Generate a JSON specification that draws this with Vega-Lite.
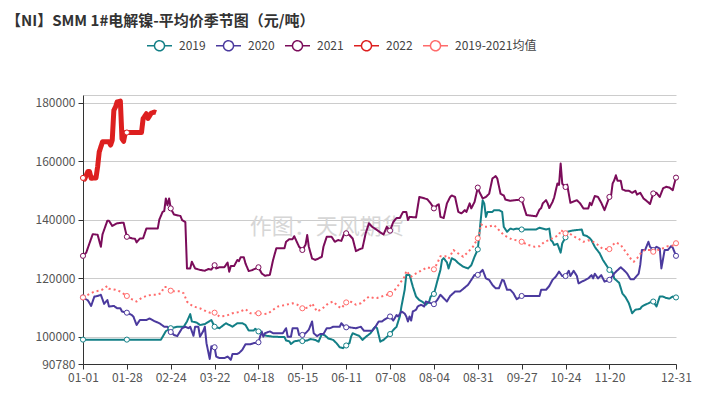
{
 "$schema": "https://vega.github.io/schema/vega-lite/v6.json",
 "width": 593, "height": 269,
 "autosize": {"type": "none"},
 "padding": {"left": 83, "top": 95, "right": 27, "bottom": 31},
 "background": "white",
 "config": {"font": "Noto Sans CJK SC", "view": {"stroke": null}},
 "title": {"text": "【NI】SMM 1#电解镍-平均价季节图（元/吨）", "anchor": "start", "frame": "group", "dx": -77, "dy": 17, "offset": 20, "fontSize": 15, "fontWeight": "bold", "color": "#333333", "font": "Noto Sans CJK SC"},
 "data": {"format": {"parse": {"date": "utc:'%Y-%m-%d'"}}, "values": [
{"series":"2019","date":"2019-01-01","value":99100},{"series":"2019","date":"2019-01-28","value":99100},{"series":"2019","date":"2019-02-18","value":99100},{"series":"2019","date":"2019-02-21","value":102000},{"series":"2019","date":"2019-02-24","value":103000},{"series":"2019","date":"2019-02-28","value":103500},{"series":"2019","date":"2019-03-03","value":103500},{"series":"2019","date":"2019-03-05","value":105300},{"series":"2019","date":"2019-03-07","value":107800},{"series":"2019","date":"2019-03-08","value":105300},{"series":"2019","date":"2019-03-11","value":104900},{"series":"2019","date":"2019-03-13","value":104100},{"series":"2019","date":"2019-03-16","value":104400},{"series":"2019","date":"2019-03-20","value":105800},{"series":"2019","date":"2019-03-22","value":103500},{"series":"2019","date":"2019-03-25","value":103000},{"series":"2019","date":"2019-03-29","value":104700},{"series":"2019","date":"2019-03-31","value":104100},{"series":"2019","date":"2019-04-02","value":103500},{"series":"2019","date":"2019-04-05","value":104700},{"series":"2019","date":"2019-04-08","value":104700},{"series":"2019","date":"2019-04-10","value":104100},{"series":"2019","date":"2019-04-12","value":102200},{"series":"2019","date":"2019-04-15","value":102200},{"series":"2019","date":"2019-04-16","value":102800},{"series":"2019","date":"2019-04-18","value":101900},{"series":"2019","date":"2019-04-21","value":100700},{"series":"2019","date":"2019-04-23","value":100400},{"series":"2019","date":"2019-04-27","value":100100},{"series":"2019","date":"2019-05-02","value":100000},{"series":"2019","date":"2019-05-04","value":100000},{"series":"2019","date":"2019-05-05","value":98800},{"series":"2019","date":"2019-05-07","value":98500},{"series":"2019","date":"2019-05-08","value":97600},{"series":"2019","date":"2019-05-10","value":98500},{"series":"2019","date":"2019-05-13","value":98800},{"series":"2019","date":"2019-05-15","value":98600},{"series":"2019","date":"2019-05-18","value":98800},{"series":"2019","date":"2019-05-20","value":99300},{"series":"2019","date":"2019-05-23","value":99000},{"series":"2019","date":"2019-05-25","value":98400},{"series":"2019","date":"2019-05-27","value":101000},{"series":"2019","date":"2019-05-29","value":100500},{"series":"2019","date":"2019-05-31","value":99500},{"series":"2019","date":"2019-06-03","value":99000},{"series":"2019","date":"2019-06-05","value":97900},{"series":"2019","date":"2019-06-07","value":96500},{"series":"2019","date":"2019-06-09","value":96200},{"series":"2019","date":"2019-06-11","value":97100},{"series":"2019","date":"2019-06-13","value":97900},{"series":"2019","date":"2019-06-14","value":100100},{"series":"2019","date":"2019-06-15","value":101300},{"series":"2019","date":"2019-06-17","value":100800},{"series":"2019","date":"2019-06-19","value":100400},{"series":"2019","date":"2019-06-21","value":99000},{"series":"2019","date":"2019-06-23","value":100000},{"series":"2019","date":"2019-06-26","value":101300},{"series":"2019","date":"2019-06-28","value":103000},{"series":"2019","date":"2019-06-29","value":103500},{"series":"2019","date":"2019-06-30","value":103000},{"series":"2019","date":"2019-07-02","value":98400},{"series":"2019","date":"2019-07-04","value":99000},{"series":"2019","date":"2019-07-06","value":100000},{"series":"2019","date":"2019-07-08","value":101000},{"series":"2019","date":"2019-07-10","value":102400},{"series":"2019","date":"2019-07-12","value":103500},{"series":"2019","date":"2019-07-13","value":105300},{"series":"2019","date":"2019-07-14","value":107000},{"series":"2019","date":"2019-07-15","value":110400},{"series":"2019","date":"2019-07-17","value":116100},{"series":"2019","date":"2019-07-18","value":121200},{"series":"2019","date":"2019-07-20","value":121200},{"series":"2019","date":"2019-07-22","value":117200},{"series":"2019","date":"2019-07-24","value":113800},{"series":"2019","date":"2019-07-26","value":112600},{"series":"2019","date":"2019-07-28","value":112000},{"series":"2019","date":"2019-07-30","value":111000},{"series":"2019","date":"2019-08-01","value":112000},{"series":"2019","date":"2019-08-02","value":113800},{"series":"2019","date":"2019-08-04","value":114700},{"series":"2019","date":"2019-08-06","value":118900},{"series":"2019","date":"2019-08-08","value":122900},{"series":"2019","date":"2019-08-09","value":126300},{"series":"2019","date":"2019-08-10","value":126900},{"series":"2019","date":"2019-08-12","value":125500},{"series":"2019","date":"2019-08-13","value":123400},{"series":"2019","date":"2019-08-15","value":126900},{"series":"2019","date":"2019-08-17","value":126300},{"series":"2019","date":"2019-08-19","value":125200},{"series":"2019","date":"2019-08-22","value":124000},{"series":"2019","date":"2019-08-25","value":123400},{"series":"2019","date":"2019-08-27","value":124500},{"series":"2019","date":"2019-08-29","value":127400},{"series":"2019","date":"2019-08-31","value":129900},{"series":"2019","date":"2019-09-01","value":135400},{"series":"2019","date":"2019-09-02","value":141000},{"series":"2019","date":"2019-09-03","value":146700},{"series":"2019","date":"2019-09-04","value":145500},{"series":"2019","date":"2019-09-05","value":141000},{"series":"2019","date":"2019-09-06","value":142700},{"series":"2019","date":"2019-09-09","value":142700},{"series":"2019","date":"2019-09-10","value":143300},{"series":"2019","date":"2019-09-13","value":143300},{"series":"2019","date":"2019-09-15","value":142700},{"series":"2019","date":"2019-09-16","value":137600},{"series":"2019","date":"2019-09-18","value":135900},{"series":"2019","date":"2019-09-20","value":137000},{"series":"2019","date":"2019-09-22","value":136700},{"series":"2019","date":"2019-09-24","value":137000},{"series":"2019","date":"2019-09-27","value":136700},{"series":"2019","date":"2019-10-01","value":136700},{"series":"2019","date":"2019-10-06","value":136700},{"series":"2019","date":"2019-10-08","value":137300},{"series":"2019","date":"2019-10-12","value":136700},{"series":"2019","date":"2019-10-14","value":137000},{"series":"2019","date":"2019-10-15","value":133100},{"series":"2019","date":"2019-10-16","value":132500},{"series":"2019","date":"2019-10-17","value":131400},{"series":"2019","date":"2019-10-19","value":131800},{"series":"2019","date":"2019-10-21","value":128800},{"series":"2019","date":"2019-10-22","value":132000},{"series":"2019","date":"2019-10-24","value":134000},{"series":"2019","date":"2019-10-25","value":135900},{"series":"2019","date":"2019-10-28","value":136300},{"series":"2019","date":"2019-10-31","value":136500},{"series":"2019","date":"2019-11-03","value":136700},{"series":"2019","date":"2019-11-04","value":134800},{"series":"2019","date":"2019-11-06","value":134500},{"series":"2019","date":"2019-11-08","value":133700},{"series":"2019","date":"2019-11-09","value":133000},{"series":"2019","date":"2019-11-11","value":130800},{"series":"2019","date":"2019-11-12","value":130000},{"series":"2019","date":"2019-11-14","value":128600},{"series":"2019","date":"2019-11-16","value":126300},{"series":"2019","date":"2019-11-20","value":122900},{"series":"2019","date":"2019-11-22","value":122000},{"series":"2019","date":"2019-11-23","value":120000},{"series":"2019","date":"2019-11-26","value":118500},{"series":"2019","date":"2019-11-28","value":114900},{"series":"2019","date":"2019-11-30","value":113500},{"series":"2019","date":"2019-12-02","value":111500},{"series":"2019","date":"2019-12-04","value":108100},{"series":"2019","date":"2019-12-06","value":109300},{"series":"2019","date":"2019-12-09","value":109600},{"series":"2019","date":"2019-12-10","value":110400},{"series":"2019","date":"2019-12-12","value":111000},{"series":"2019","date":"2019-12-14","value":111500},{"series":"2019","date":"2019-12-16","value":112100},{"series":"2019","date":"2019-12-17","value":112100},{"series":"2019","date":"2019-12-19","value":110400},{"series":"2019","date":"2019-12-21","value":113800},{"series":"2019","date":"2019-12-23","value":113800},{"series":"2019","date":"2019-12-25","value":113300},{"series":"2019","date":"2019-12-27","value":113100},{"series":"2019","date":"2019-12-29","value":113800},{"series":"2019","date":"2019-12-31","value":113500},
{"series":"2020","date":"2020-01-01","value":113500},{"series":"2020","date":"2020-01-04","value":112500},{"series":"2020","date":"2020-01-06","value":110600},{"series":"2020","date":"2020-01-08","value":113800},{"series":"2020","date":"2020-01-10","value":114000},{"series":"2020","date":"2020-01-12","value":114400},{"series":"2020","date":"2020-01-14","value":111300},{"series":"2020","date":"2020-01-16","value":112600},{"series":"2020","date":"2020-01-17","value":110400},{"series":"2020","date":"2020-01-20","value":110600},{"series":"2020","date":"2020-01-22","value":109800},{"series":"2020","date":"2020-01-24","value":109800},{"series":"2020","date":"2020-01-25","value":108700},{"series":"2020","date":"2020-01-28","value":108300},{"series":"2020","date":"2020-01-31","value":107500},{"series":"2020","date":"2020-02-01","value":107000},{"series":"2020","date":"2020-02-03","value":104100},{"series":"2020","date":"2020-02-05","value":105800},{"series":"2020","date":"2020-02-09","value":105800},{"series":"2020","date":"2020-02-11","value":106300},{"series":"2020","date":"2020-02-14","value":105400},{"series":"2020","date":"2020-02-17","value":104700},{"series":"2020","date":"2020-02-20","value":103500},{"series":"2020","date":"2020-02-22","value":103500},{"series":"2020","date":"2020-02-24","value":101700},{"series":"2020","date":"2020-02-26","value":100700},{"series":"2020","date":"2020-02-28","value":100300},{"series":"2020","date":"2020-03-02","value":103000},{"series":"2020","date":"2020-03-04","value":103500},{"series":"2020","date":"2020-03-06","value":103000},{"series":"2020","date":"2020-03-07","value":103500},{"series":"2020","date":"2020-03-09","value":100400},{"series":"2020","date":"2020-03-10","value":103500},{"series":"2020","date":"2020-03-12","value":103500},{"series":"2020","date":"2020-03-13","value":100100},{"series":"2020","date":"2020-03-15","value":102000},{"series":"2020","date":"2020-03-16","value":103500},{"series":"2020","date":"2020-03-17","value":97900},{"series":"2020","date":"2020-03-19","value":92500},{"series":"2020","date":"2020-03-20","value":96800},{"series":"2020","date":"2020-03-21","value":96700},{"series":"2020","date":"2020-03-22","value":96500},{"series":"2020","date":"2020-03-23","value":93300},{"series":"2020","date":"2020-03-25","value":92800},{"series":"2020","date":"2020-03-28","value":92800},{"series":"2020","date":"2020-03-30","value":93300},{"series":"2020","date":"2020-03-31","value":92800},{"series":"2020","date":"2020-04-01","value":92200},{"series":"2020","date":"2020-04-02","value":94200},{"series":"2020","date":"2020-04-05","value":94200},{"series":"2020","date":"2020-04-06","value":94500},{"series":"2020","date":"2020-04-08","value":95600},{"series":"2020","date":"2020-04-10","value":97500},{"series":"2020","date":"2020-04-13","value":97500},{"series":"2020","date":"2020-04-15","value":97900},{"series":"2020","date":"2020-04-18","value":98200},{"series":"2020","date":"2020-04-19","value":100100},{"series":"2020","date":"2020-04-20","value":101900},{"series":"2020","date":"2020-04-21","value":100100},{"series":"2020","date":"2020-04-22","value":101300},{"series":"2020","date":"2020-04-25","value":101900},{"series":"2020","date":"2020-04-27","value":101300},{"series":"2020","date":"2020-05-03","value":101300},{"series":"2020","date":"2020-05-05","value":103000},{"series":"2020","date":"2020-05-06","value":100100},{"series":"2020","date":"2020-05-08","value":100100},{"series":"2020","date":"2020-05-09","value":103000},{"series":"2020","date":"2020-05-12","value":103000},{"series":"2020","date":"2020-05-13","value":100700},{"series":"2020","date":"2020-05-15","value":100700},{"series":"2020","date":"2020-05-17","value":101300},{"series":"2020","date":"2020-05-19","value":102500},{"series":"2020","date":"2020-05-21","value":105300},{"series":"2020","date":"2020-05-22","value":101300},{"series":"2020","date":"2020-05-24","value":100300},{"series":"2020","date":"2020-05-26","value":101000},{"series":"2020","date":"2020-05-28","value":101000},{"series":"2020","date":"2020-05-30","value":103000},{"series":"2020","date":"2020-06-01","value":103000},{"series":"2020","date":"2020-06-03","value":103500},{"series":"2020","date":"2020-06-07","value":103500},{"series":"2020","date":"2020-06-08","value":104700},{"series":"2020","date":"2020-06-10","value":103500},{"series":"2020","date":"2020-06-11","value":103300},{"series":"2020","date":"2020-06-13","value":103300},{"series":"2020","date":"2020-06-17","value":103000},{"series":"2020","date":"2020-06-20","value":103500},{"series":"2020","date":"2020-06-22","value":102100},{"series":"2020","date":"2020-06-27","value":102100},{"series":"2020","date":"2020-06-29","value":103500},{"series":"2020","date":"2020-07-01","value":105300},{"series":"2020","date":"2020-07-03","value":105300},{"series":"2020","date":"2020-07-05","value":106100},{"series":"2020","date":"2020-07-08","value":107000},{"series":"2020","date":"2020-07-10","value":105600},{"series":"2020","date":"2020-07-12","value":107500},{"series":"2020","date":"2020-07-13","value":107000},{"series":"2020","date":"2020-07-15","value":108700},{"series":"2020","date":"2020-07-17","value":108000},{"series":"2020","date":"2020-07-18","value":107000},{"series":"2020","date":"2020-07-19","value":105300},{"series":"2020","date":"2020-07-20","value":107000},{"series":"2020","date":"2020-07-21","value":105600},{"series":"2020","date":"2020-07-22","value":108700},{"series":"2020","date":"2020-07-24","value":109300},{"series":"2020","date":"2020-07-25","value":110400},{"series":"2020","date":"2020-07-27","value":111000},{"series":"2020","date":"2020-07-29","value":110400},{"series":"2020","date":"2020-07-30","value":112100},{"series":"2020","date":"2020-08-04","value":111200},{"series":"2020","date":"2020-08-06","value":112600},{"series":"2020","date":"2020-08-08","value":114400},{"series":"2020","date":"2020-08-12","value":112100},{"series":"2020","date":"2020-08-14","value":114000},{"series":"2020","date":"2020-08-17","value":115500},{"series":"2020","date":"2020-08-20","value":115500},{"series":"2020","date":"2020-08-25","value":117800},{"series":"2020","date":"2020-08-27","value":119500},{"series":"2020","date":"2020-08-29","value":121200},{"series":"2020","date":"2020-08-31","value":121200},{"series":"2020","date":"2020-09-03","value":122900},{"series":"2020","date":"2020-09-05","value":120000},{"series":"2020","date":"2020-09-07","value":119500},{"series":"2020","date":"2020-09-09","value":117800},{"series":"2020","date":"2020-09-11","value":116600},{"series":"2020","date":"2020-09-13","value":116600},{"series":"2020","date":"2020-09-15","value":119500},{"series":"2020","date":"2020-09-16","value":119300},{"series":"2020","date":"2020-09-18","value":116100},{"series":"2020","date":"2020-09-20","value":116100},{"series":"2020","date":"2020-09-22","value":114900},{"series":"2020","date":"2020-09-23","value":113800},{"series":"2020","date":"2020-09-24","value":112900},{"series":"2020","date":"2020-09-27","value":114000},{"series":"2020","date":"2020-09-30","value":114000},{"series":"2020","date":"2020-10-08","value":114000},{"series":"2020","date":"2020-10-09","value":116100},{"series":"2020","date":"2020-10-12","value":116100},{"series":"2020","date":"2020-10-14","value":117400},{"series":"2020","date":"2020-10-16","value":119500},{"series":"2020","date":"2020-10-18","value":120600},{"series":"2020","date":"2020-10-20","value":122300},{"series":"2020","date":"2020-10-22","value":120800},{"series":"2020","date":"2020-10-24","value":120800},{"series":"2020","date":"2020-10-26","value":122600},{"series":"2020","date":"2020-10-27","value":120800},{"series":"2020","date":"2020-10-29","value":122600},{"series":"2020","date":"2020-10-31","value":120800},{"series":"2020","date":"2020-11-01","value":118300},{"series":"2020","date":"2020-11-03","value":118900},{"series":"2020","date":"2020-11-05","value":119400},{"series":"2020","date":"2020-11-07","value":120000},{"series":"2020","date":"2020-11-09","value":121100},{"series":"2020","date":"2020-11-10","value":120000},{"series":"2020","date":"2020-11-11","value":121600},{"series":"2020","date":"2020-11-13","value":120000},{"series":"2020","date":"2020-11-15","value":121100},{"series":"2020","date":"2020-11-17","value":118900},{"series":"2020","date":"2020-11-20","value":119500},{"series":"2020","date":"2020-11-22","value":120800},{"series":"2020","date":"2020-11-23","value":121700},{"series":"2020","date":"2020-11-25","value":122800},{"series":"2020","date":"2020-11-27","value":123800},{"series":"2020","date":"2020-11-29","value":122800},{"series":"2020","date":"2020-12-01","value":121600},{"series":"2020","date":"2020-12-03","value":119700},{"series":"2020","date":"2020-12-05","value":119700},{"series":"2020","date":"2020-12-08","value":121600},{"series":"2020","date":"2020-12-09","value":124600},{"series":"2020","date":"2020-12-10","value":129700},{"series":"2020","date":"2020-12-12","value":129700},{"series":"2020","date":"2020-12-14","value":132500},{"series":"2020","date":"2020-12-15","value":130800},{"series":"2020","date":"2020-12-17","value":129700},{"series":"2020","date":"2020-12-19","value":130800},{"series":"2020","date":"2020-12-21","value":130200},{"series":"2020","date":"2020-12-22","value":123400},{"series":"2020","date":"2020-12-24","value":129700},{"series":"2020","date":"2020-12-26","value":129700},{"series":"2020","date":"2020-12-28","value":131000},{"series":"2020","date":"2020-12-29","value":130500},{"series":"2020","date":"2020-12-31","value":127700},
{"series":"2021","date":"2021-01-01","value":127700},{"series":"2021","date":"2021-01-03","value":128800},{"series":"2021","date":"2021-01-05","value":132000},{"series":"2021","date":"2021-01-07","value":135100},{"series":"2021","date":"2021-01-10","value":134900},{"series":"2021","date":"2021-01-12","value":130800},{"series":"2021","date":"2021-01-13","value":135000},{"series":"2021","date":"2021-01-16","value":139700},{"series":"2021","date":"2021-01-17","value":139700},{"series":"2021","date":"2021-01-19","value":137900},{"series":"2021","date":"2021-01-22","value":138800},{"series":"2021","date":"2021-01-25","value":139000},{"series":"2021","date":"2021-01-26","value":139000},{"series":"2021","date":"2021-01-28","value":134200},{"series":"2021","date":"2021-01-31","value":133700},{"series":"2021","date":"2021-02-02","value":133500},{"series":"2021","date":"2021-02-03","value":132300},{"series":"2021","date":"2021-02-05","value":133600},{"series":"2021","date":"2021-02-07","value":133700},{"series":"2021","date":"2021-02-09","value":137000},{"series":"2021","date":"2021-02-16","value":137000},{"series":"2021","date":"2021-02-17","value":140100},{"series":"2021","date":"2021-02-19","value":142700},{"series":"2021","date":"2021-02-20","value":143000},{"series":"2021","date":"2021-02-21","value":147300},{"series":"2021","date":"2021-02-22","value":145000},{"series":"2021","date":"2021-02-23","value":147300},{"series":"2021","date":"2021-02-24","value":143900},{"series":"2021","date":"2021-02-26","value":141800},{"series":"2021","date":"2021-03-01","value":141300},{"series":"2021","date":"2021-03-02","value":139900},{"series":"2021","date":"2021-03-04","value":139200},{"series":"2021","date":"2021-03-05","value":123400},{"series":"2021","date":"2021-03-07","value":123400},{"series":"2021","date":"2021-03-08","value":125700},{"series":"2021","date":"2021-03-10","value":123400},{"series":"2021","date":"2021-03-13","value":122900},{"series":"2021","date":"2021-03-16","value":122600},{"series":"2021","date":"2021-03-18","value":123200},{"series":"2021","date":"2021-03-20","value":123000},{"series":"2021","date":"2021-03-22","value":124500},{"series":"2021","date":"2021-03-23","value":123400},{"series":"2021","date":"2021-03-25","value":123800},{"series":"2021","date":"2021-03-28","value":123800},{"series":"2021","date":"2021-03-30","value":125400},{"series":"2021","date":"2021-03-31","value":122300},{"series":"2021","date":"2021-04-01","value":124200},{"series":"2021","date":"2021-04-03","value":124200},{"series":"2021","date":"2021-04-05","value":126300},{"series":"2021","date":"2021-04-06","value":125900},{"series":"2021","date":"2021-04-07","value":127200},{"series":"2021","date":"2021-04-09","value":127200},{"series":"2021","date":"2021-04-10","value":125100},{"series":"2021","date":"2021-04-12","value":122500},{"series":"2021","date":"2021-04-14","value":122800},{"series":"2021","date":"2021-04-18","value":123800},{"series":"2021","date":"2021-04-20","value":121700},{"series":"2021","date":"2021-04-22","value":120900},{"series":"2021","date":"2021-04-25","value":121200},{"series":"2021","date":"2021-04-27","value":126300},{"series":"2021","date":"2021-04-29","value":130300},{"series":"2021","date":"2021-05-04","value":130300},{"series":"2021","date":"2021-05-05","value":132500},{"series":"2021","date":"2021-05-07","value":133400},{"series":"2021","date":"2021-05-09","value":133400},{"series":"2021","date":"2021-05-10","value":134400},{"series":"2021","date":"2021-05-12","value":132000},{"series":"2021","date":"2021-05-13","value":130800},{"series":"2021","date":"2021-05-15","value":129700},{"series":"2021","date":"2021-05-17","value":131500},{"series":"2021","date":"2021-05-18","value":134800},{"series":"2021","date":"2021-05-19","value":130800},{"series":"2021","date":"2021-05-21","value":126800},{"series":"2021","date":"2021-05-23","value":126300},{"series":"2021","date":"2021-05-25","value":126800},{"series":"2021","date":"2021-05-27","value":127400},{"series":"2021","date":"2021-05-28","value":130800},{"series":"2021","date":"2021-05-30","value":134200},{"series":"2021","date":"2021-06-02","value":134200},{"series":"2021","date":"2021-06-04","value":132500},{"series":"2021","date":"2021-06-06","value":133100},{"series":"2021","date":"2021-06-08","value":132800},{"series":"2021","date":"2021-06-10","value":135600},{"series":"2021","date":"2021-06-11","value":135400},{"series":"2021","date":"2021-06-13","value":134800},{"series":"2021","date":"2021-06-15","value":133600},{"series":"2021","date":"2021-06-17","value":129300},{"series":"2021","date":"2021-06-19","value":129900},{"series":"2021","date":"2021-06-21","value":130300},{"series":"2021","date":"2021-06-23","value":135400},{"series":"2021","date":"2021-06-25","value":138800},{"series":"2021","date":"2021-06-27","value":137600},{"series":"2021","date":"2021-06-30","value":136500},{"series":"2021","date":"2021-07-02","value":135700},{"series":"2021","date":"2021-07-04","value":135000},{"series":"2021","date":"2021-07-06","value":137600},{"series":"2021","date":"2021-07-08","value":136300},{"series":"2021","date":"2021-07-10","value":139300},{"series":"2021","date":"2021-07-12","value":140600},{"series":"2021","date":"2021-07-14","value":140600},{"series":"2021","date":"2021-07-16","value":142700},{"series":"2021","date":"2021-07-18","value":142700},{"series":"2021","date":"2021-07-19","value":139900},{"series":"2021","date":"2021-07-20","value":141000},{"series":"2021","date":"2021-07-24","value":140800},{"series":"2021","date":"2021-07-26","value":147800},{"series":"2021","date":"2021-07-28","value":147500},{"series":"2021","date":"2021-07-31","value":147000},{"series":"2021","date":"2021-08-02","value":145600},{"series":"2021","date":"2021-08-04","value":143900},{"series":"2021","date":"2021-08-06","value":145000},{"series":"2021","date":"2021-08-07","value":145300},{"series":"2021","date":"2021-08-08","value":141000},{"series":"2021","date":"2021-08-10","value":140600},{"series":"2021","date":"2021-08-12","value":145600},{"series":"2021","date":"2021-08-14","value":147800},{"series":"2021","date":"2021-08-15","value":148300},{"series":"2021","date":"2021-08-17","value":147800},{"series":"2021","date":"2021-08-19","value":142700},{"series":"2021","date":"2021-08-21","value":142200},{"series":"2021","date":"2021-08-23","value":143300},{"series":"2021","date":"2021-08-24","value":142700},{"series":"2021","date":"2021-08-26","value":145600},{"series":"2021","date":"2021-08-27","value":143900},{"series":"2021","date":"2021-08-29","value":146100},{"series":"2021","date":"2021-08-31","value":151000},{"series":"2021","date":"2021-09-01","value":149500},{"series":"2021","date":"2021-09-03","value":147300},{"series":"2021","date":"2021-09-05","value":147800},{"series":"2021","date":"2021-09-07","value":148900},{"series":"2021","date":"2021-09-09","value":154100},{"series":"2021","date":"2021-09-11","value":154900},{"series":"2021","date":"2021-09-12","value":154100},{"series":"2021","date":"2021-09-14","value":148900},{"series":"2021","date":"2021-09-16","value":148300},{"series":"2021","date":"2021-09-17","value":146900},{"series":"2021","date":"2021-09-20","value":146500},{"series":"2021","date":"2021-09-23","value":146700},{"series":"2021","date":"2021-09-27","value":146900},{"series":"2021","date":"2021-09-29","value":143300},{"series":"2021","date":"2021-09-30","value":141600},{"series":"2021","date":"2021-10-06","value":141200},{"series":"2021","date":"2021-10-08","value":143500},{"series":"2021","date":"2021-10-09","value":144000},{"series":"2021","date":"2021-10-10","value":145600},{"series":"2021","date":"2021-10-12","value":146700},{"series":"2021","date":"2021-10-13","value":145600},{"series":"2021","date":"2021-10-14","value":144000},{"series":"2021","date":"2021-10-16","value":146100},{"series":"2021","date":"2021-10-17","value":147600},{"series":"2021","date":"2021-10-19","value":152400},{"series":"2021","date":"2021-10-20","value":151900},{"series":"2021","date":"2021-10-21","value":159200},{"series":"2021","date":"2021-10-22","value":152300},{"series":"2021","date":"2021-10-24","value":151200},{"series":"2021","date":"2021-10-25","value":152000},{"series":"2021","date":"2021-10-27","value":145800},{"series":"2021","date":"2021-10-31","value":146700},{"series":"2021","date":"2021-11-02","value":145600},{"series":"2021","date":"2021-11-04","value":143900},{"series":"2021","date":"2021-11-07","value":143900},{"series":"2021","date":"2021-11-08","value":145800},{"series":"2021","date":"2021-11-09","value":145000},{"series":"2021","date":"2021-11-11","value":148100},{"series":"2021","date":"2021-11-13","value":147800},{"series":"2021","date":"2021-11-15","value":145800},{"series":"2021","date":"2021-11-17","value":143300},{"series":"2021","date":"2021-11-20","value":147800},{"series":"2021","date":"2021-11-21","value":148100},{"series":"2021","date":"2021-11-22","value":152400},{"series":"2021","date":"2021-11-23","value":153500},{"series":"2021","date":"2021-11-24","value":155200},{"series":"2021","date":"2021-11-25","value":153300},{"series":"2021","date":"2021-11-27","value":153300},{"series":"2021","date":"2021-11-28","value":150400},{"series":"2021","date":"2021-11-30","value":149900},{"series":"2021","date":"2021-12-02","value":149900},{"series":"2021","date":"2021-12-04","value":149200},{"series":"2021","date":"2021-12-06","value":149900},{"series":"2021","date":"2021-12-07","value":148600},{"series":"2021","date":"2021-12-09","value":149200},{"series":"2021","date":"2021-12-11","value":147300},{"series":"2021","date":"2021-12-13","value":146400},{"series":"2021","date":"2021-12-15","value":145400},{"series":"2021","date":"2021-12-17","value":149000},{"series":"2021","date":"2021-12-19","value":149200},{"series":"2021","date":"2021-12-21","value":147800},{"series":"2021","date":"2021-12-23","value":150700},{"series":"2021","date":"2021-12-25","value":151300},{"series":"2021","date":"2021-12-27","value":151000},{"series":"2021","date":"2021-12-29","value":150100},{"series":"2021","date":"2021-12-30","value":152400},{"series":"2021","date":"2021-12-31","value":154400},
{"series":"2022","date":"2022-01-01","value":154300},{"series":"2022","date":"2022-01-02","value":153900},{"series":"2022","date":"2022-01-04","value":156500},{"series":"2022","date":"2022-01-05","value":156500},{"series":"2022","date":"2022-01-06","value":154200},{"series":"2022","date":"2022-01-09","value":154300},{"series":"2022","date":"2022-01-10","value":158100},{"series":"2022","date":"2022-01-11","value":163200},{"series":"2022","date":"2022-01-13","value":166600},{"series":"2022","date":"2022-01-17","value":166600},{"series":"2022","date":"2022-01-18","value":165500},{"series":"2022","date":"2022-01-19","value":167200},{"series":"2022","date":"2022-01-20","value":177400},{"series":"2022","date":"2022-01-21","value":178500},{"series":"2022","date":"2022-01-22","value":180200},{"series":"2022","date":"2022-01-24","value":180500},{"series":"2022","date":"2022-01-25","value":167700},{"series":"2022","date":"2022-01-26","value":166800},{"series":"2022","date":"2022-01-27","value":169800},{"series":"2022","date":"2022-01-28","value":169800},{"series":"2022","date":"2022-02-06","value":169800},{"series":"2022","date":"2022-02-07","value":174500},{"series":"2022","date":"2022-02-09","value":176200},{"series":"2022","date":"2022-02-10","value":174600},{"series":"2022","date":"2022-02-12","value":176400},{"series":"2022","date":"2022-02-14","value":176800},{"series":"2022","date":"2022-02-15","value":176600},
{"series":"2019-2021均值","date":"2020-01-01","value":113500},{"series":"2019-2021均值","date":"2020-01-04","value":114400},{"series":"2019-2021均值","date":"2020-01-08","value":115500},{"series":"2019-2021均值","date":"2020-01-11","value":115800},{"series":"2019-2021均值","date":"2020-01-13","value":116200},{"series":"2019-2021均值","date":"2020-01-16","value":117400},{"series":"2019-2021均值","date":"2020-01-17","value":116500},{"series":"2019-2021均值","date":"2020-01-21","value":116100},{"series":"2019-2021均值","date":"2020-01-24","value":115500},{"series":"2019-2021均值","date":"2020-01-28","value":114000},{"series":"2019-2021均值","date":"2020-01-31","value":112900},{"series":"2019-2021均值","date":"2020-02-03","value":112100},{"series":"2019-2021均值","date":"2020-02-06","value":113300},{"series":"2019-2021均值","date":"2020-02-09","value":114000},{"series":"2019-2021均值","date":"2020-02-12","value":114400},{"series":"2019-2021均值","date":"2020-02-15","value":114400},{"series":"2019-2021均值","date":"2020-02-18","value":114900},{"series":"2019-2021均值","date":"2020-02-20","value":117100},{"series":"2019-2021均值","date":"2020-02-22","value":117100},{"series":"2019-2021均值","date":"2020-02-24","value":115800},{"series":"2019-2021均值","date":"2020-02-26","value":115600},{"series":"2019-2021均值","date":"2020-03-01","value":115600},{"series":"2019-2021均值","date":"2020-03-03","value":114900},{"series":"2019-2021均值","date":"2020-03-05","value":112100},{"series":"2019-2021均值","date":"2020-03-06","value":111500},{"series":"2019-2021均值","date":"2020-03-09","value":110400},{"series":"2019-2021均值","date":"2020-03-13","value":109800},{"series":"2019-2021均值","date":"2020-03-17","value":108700},{"series":"2019-2021均值","date":"2020-03-19","value":108300},{"series":"2019-2021均值","date":"2020-03-22","value":108300},{"series":"2019-2021均值","date":"2020-03-25","value":107000},{"series":"2019-2021均值","date":"2020-03-29","value":107200},{"series":"2019-2021均值","date":"2020-04-02","value":108100},{"series":"2019-2021均值","date":"2020-04-06","value":108500},{"series":"2019-2021均值","date":"2020-04-10","value":109500},{"series":"2019-2021均值","date":"2020-04-13","value":108100},{"series":"2019-2021均值","date":"2020-04-18","value":108100},{"series":"2019-2021均值","date":"2020-04-21","value":107800},{"series":"2019-2021均值","date":"2020-04-24","value":108000},{"series":"2019-2021均值","date":"2020-04-27","value":109300},{"series":"2019-2021均值","date":"2020-04-30","value":110400},{"series":"2019-2021均值","date":"2020-05-05","value":111000},{"series":"2019-2021均值","date":"2020-05-09","value":111500},{"series":"2019-2021均值","date":"2020-05-12","value":111000},{"series":"2019-2021均值","date":"2020-05-15","value":109800},{"series":"2019-2021均值","date":"2020-05-19","value":110000},{"series":"2019-2021均值","date":"2020-05-21","value":111500},{"series":"2019-2021均值","date":"2020-05-24","value":108700},{"series":"2019-2021均值","date":"2020-05-27","value":109500},{"series":"2019-2021均值","date":"2020-05-31","value":111500},{"series":"2019-2021均值","date":"2020-06-03","value":112100},{"series":"2019-2021均值","date":"2020-06-06","value":110500},{"series":"2019-2021均值","date":"2020-06-08","value":109800},{"series":"2019-2021均值","date":"2020-06-11","value":111800},{"series":"2019-2021均值","date":"2020-06-14","value":112000},{"series":"2019-2021均值","date":"2020-06-17","value":111000},{"series":"2019-2021均值","date":"2020-06-20","value":111500},{"series":"2019-2021均值","date":"2020-06-25","value":113800},{"series":"2019-2021均值","date":"2020-06-28","value":113300},{"series":"2019-2021均值","date":"2020-06-30","value":113300},{"series":"2019-2021均值","date":"2020-07-06","value":114400},{"series":"2019-2021均值","date":"2020-07-08","value":114700},{"series":"2019-2021均值","date":"2020-07-11","value":116100},{"series":"2019-2021均值","date":"2020-07-14","value":118300},{"series":"2019-2021均值","date":"2020-07-17","value":120600},{"series":"2019-2021均值","date":"2020-07-18","value":122600},{"series":"2019-2021均值","date":"2020-07-21","value":120600},{"series":"2019-2021均值","date":"2020-07-24","value":121700},{"series":"2019-2021均值","date":"2020-07-28","value":122900},{"series":"2019-2021均值","date":"2020-07-31","value":123800},{"series":"2019-2021均值","date":"2020-08-04","value":123100},{"series":"2019-2021均值","date":"2020-08-06","value":125100},{"series":"2019-2021均值","date":"2020-08-08","value":127600},{"series":"2019-2021均值","date":"2020-08-11","value":127600},{"series":"2019-2021均值","date":"2020-08-13","value":126700},{"series":"2019-2021均值","date":"2020-08-16","value":129700},{"series":"2019-2021均值","date":"2020-08-19","value":128500},{"series":"2019-2021均值","date":"2020-08-22","value":127400},{"series":"2019-2021均值","date":"2020-08-25","value":129000},{"series":"2019-2021均值","date":"2020-08-28","value":130800},{"series":"2019-2021均值","date":"2020-08-31","value":133700},{"series":"2019-2021均值","date":"2020-09-01","value":135400},{"series":"2019-2021均值","date":"2020-09-02","value":138500},{"series":"2019-2021均值","date":"2020-09-04","value":137600},{"series":"2019-2021均值","date":"2020-09-06","value":137600},{"series":"2019-2021均值","date":"2020-09-10","value":138200},{"series":"2019-2021均值","date":"2020-09-13","value":136500},{"series":"2019-2021均值","date":"2020-09-16","value":134800},{"series":"2019-2021均值","date":"2020-09-18","value":134200},{"series":"2019-2021均值","date":"2020-09-21","value":133300},{"series":"2019-2021均值","date":"2020-09-24","value":133000},{"series":"2019-2021均值","date":"2020-09-27","value":132500},{"series":"2019-2021均值","date":"2020-10-01","value":131400},{"series":"2019-2021均值","date":"2020-10-05","value":130800},{"series":"2019-2021均值","date":"2020-10-08","value":131000},{"series":"2019-2021均值","date":"2020-10-11","value":132500},{"series":"2019-2021均值","date":"2020-10-14","value":133100},{"series":"2019-2021均值","date":"2020-10-17","value":134000},{"series":"2019-2021均值","date":"2020-10-20","value":134800},{"series":"2019-2021均值","date":"2020-10-21","value":136500},{"series":"2019-2021均值","date":"2020-10-24","value":135400},{"series":"2019-2021均值","date":"2020-10-26","value":135500},{"series":"2019-2021均值","date":"2020-10-29","value":134400},{"series":"2019-2021均值","date":"2020-11-01","value":133500},{"series":"2019-2021均值","date":"2020-11-04","value":132500},{"series":"2019-2021均值","date":"2020-11-07","value":133000},{"series":"2019-2021均值","date":"2020-11-10","value":132500},{"series":"2019-2021均值","date":"2020-11-13","value":131400},{"series":"2019-2021均值","date":"2020-11-16","value":130000},{"series":"2019-2021均值","date":"2020-11-20","value":130000},{"series":"2019-2021均值","date":"2020-11-22","value":131400},{"series":"2019-2021均值","date":"2020-11-24","value":132300},{"series":"2019-2021均值","date":"2020-11-27","value":131400},{"series":"2019-2021均值","date":"2020-11-30","value":129100},{"series":"2019-2021均值","date":"2020-12-03","value":126800},{"series":"2019-2021均值","date":"2020-12-05","value":125700},{"series":"2019-2021均值","date":"2020-12-07","value":126800},{"series":"2019-2021均值","date":"2020-12-10","value":129100},{"series":"2019-2021均值","date":"2020-12-12","value":129700},{"series":"2019-2021均值","date":"2020-12-15","value":129700},{"series":"2019-2021均值","date":"2020-12-17","value":129100},{"series":"2019-2021均值","date":"2020-12-20","value":129700},{"series":"2019-2021均值","date":"2020-12-23","value":130300},{"series":"2019-2021均值","date":"2020-12-26","value":131000},{"series":"2019-2021均值","date":"2020-12-29","value":131200},{"series":"2019-2021均值","date":"2020-12-31","value":132000}
 ]},
 "layer": [
  {
   "data": {"values": [{"label": "作图：天风期货"}]},
   "mark": {"type": "text", "fontSize": 22, "color": "#d6d6d6", "align": "center", "baseline": "middle", "font": "Noto Sans CJK SC"},
   "encoding": {
    "x": {"datum": {"year": 2012, "month": 5, "date": 30, "utc": true}, "type": "temporal"},
    "y": {"datum": 137600, "type": "quantitative"},
    "text": {"field": "label", "type": "nominal"}
   }
  },
  {
   "mark": {"type": "line", "strokeJoin": "round", "strokeCap": "butt"},
   "encoding": {
    "x": {"field": "date", "timeUnit": "utcmonthdate", "type": "temporal",
      "scale": {"type": "utc", "domain": [{"year": 2012, "month": 1, "date": 1, "utc": true}, {"year": 2012, "month": 12, "date": 31, "utc": true}]},
      "axis": {"title": null, "values": [{"year": 2012, "month": 1, "date": 1, "utc": true}, {"year": 2012, "month": 1, "date": 28, "utc": true}, {"year": 2012, "month": 2, "date": 24, "utc": true}, {"year": 2012, "month": 3, "date": 22, "utc": true}, {"year": 2012, "month": 4, "date": 18, "utc": true}, {"year": 2012, "month": 5, "date": 15, "utc": true}, {"year": 2012, "month": 6, "date": 11, "utc": true}, {"year": 2012, "month": 7, "date": 8, "utc": true}, {"year": 2012, "month": 8, "date": 4, "utc": true}, {"year": 2012, "month": 8, "date": 31, "utc": true}, {"year": 2012, "month": 9, "date": 27, "utc": true}, {"year": 2012, "month": 10, "date": 24, "utc": true}, {"year": 2012, "month": 11, "date": 20, "utc": true}, {"year": 2012, "month": 12, "date": 31, "utc": true}],
        "format": "%m-%d", "grid": false, "labelFlush": false, "labelOverlap": false, "domainColor": "#333333", "tickColor": "#333333", "tickSize": 5, "labelColor": "#555555", "labelFontSize": 12, "labelPadding": 3, "labelFont": "Noto Sans CJK SC"}},
    "y": {"field": "value", "type": "quantitative",
      "scale": {"domain": [90780, 182600], "nice": false, "zero": false},
      "axis": {"title": null, "values": [90780, 100000, 120000, 140000, 160000, 180000, 182600], "format": "d",
        "labelExpr": "datum.value > 181000 ? '' : datum.label",
        "tickOpacity": {"condition": {"test": "datum.value > 181000", "value": 0}, "value": 1},
        "grid": true, "gridColor": "#cccccc", "domainColor": "#333333", "tickColor": "#333333", "tickSize": 5, "labelColor": "#555555", "labelFontSize": 12, "labelPadding": 3, "labelFont": "Noto Sans CJK SC"}},
    "color": {"field": "series", "type": "nominal",
      "scale": {"domain": ["2019", "2020", "2021", "2022", "2019-2021均值"], "range": ["#137f86", "#4b3a9e", "#7b0c5a", "#dd1f1f", "#ff6b6b"]},
      "legend": {"orient": "none", "legendX": 63, "legendY": -63, "direction": "horizontal", "title": null,
        "symbolType": "M-1,0L-0.4,0M0.4,0L1,0M0.4,0A0.4,0.4,0,1,1,-0.4,0A0.4,0.4,0,1,1,0.4,0",
        "symbolSize": 625, "symbolStrokeWidth": 1.5, "labelFontSize": 12, "labelColor": "#444444", "labelFont": "Noto Sans CJK SC", "labelOffset": 6, "columnPadding": 7,
        "encode": {"symbols": {"update": {"fill": {"value": "white"}, "fillOpacity": {"value": 1}, "strokeDash": {"value": [1, 0]}, "strokeWidth": {"value": 1.5}}}}}},
    "strokeWidth": {"condition": {"test": "datum.series === '2022'", "value": 5}, "value": 2},
    "strokeDash": {"condition": {"test": "datum.series === '2019-2021均值'", "value": [2, 3]}, "value": [1, 0]}
   }
  },
  {
   "transform": [{"filter": "indexof(['01-01','01-28','02-24','03-22','04-18','05-15','06-11','07-08','08-04','08-31','09-27','10-24','11-20','12-17','12-31'], utcFormat(datum.date, '%m-%d')) >= 0"}],
   "mark": {"type": "point", "shape": "circle", "size": 26, "fill": "white", "fillOpacity": 1, "strokeWidth": 1, "opacity": 1},
   "encoding": {
    "x": {"field": "date", "timeUnit": "utcmonthdate", "type": "temporal"},
    "y": {"field": "value", "type": "quantitative"},
    "stroke": {"field": "series", "type": "nominal", "scale": {"domain": ["2019", "2020", "2021", "2022", "2019-2021均值"], "range": ["#137f86", "#4b3a9e", "#7b0c5a", "#dd1f1f", "#ff6b6b"]}, "legend": null}
   }
  }
 ]
}
